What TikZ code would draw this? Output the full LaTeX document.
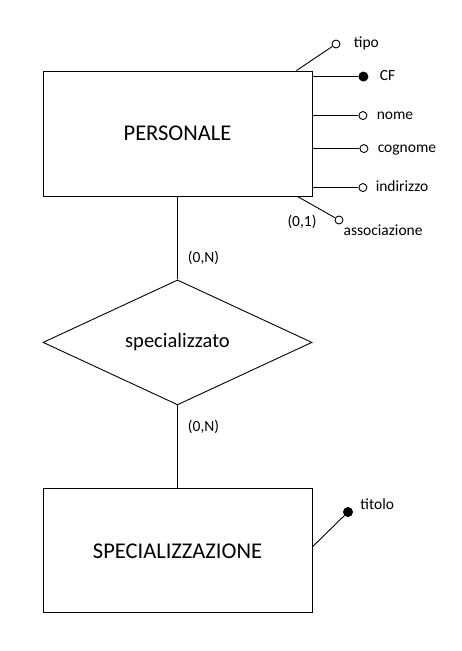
\documentclass[tikz,border=0pt]{standalone}
\usepackage{fontspec}
\setmainfont{Carlito}
\usetikzlibrary{shapes.geometric, positioning, calc}

\begin{document}
\begin{tikzpicture}[
  x=1pt, y=-1pt,
  node distance=83pt,
  line width=0.9pt,
  entity/.style={draw, minimum width=269pt, minimum height=125pt,
    font=\fontsize{22.5}{26}\selectfont},
  relation/.style={draw, diamond, minimum width=269pt, minimum height=125pt,
    inner sep=0pt, font=\fontsize{20.5}{24}\selectfont},
  attr/.style={draw, circle, fill=white, minimum size=8pt, inner sep=0pt},
  keyattr/.style={attr, fill=black, minimum size=9pt},
  lbl/.style={inner sep=0pt, text height=11.2pt, text depth=3.5pt,
    font=\fontsize{15.5}{18}\selectfont}
]
\useasboundingbox (0,0) rectangle (461,651);

% Entities and relationship
\node[entity] (pers) at (177.5,133.5) {PERSONALE};
\node[relation, below=of pers] (spz) {specializzato};
\node[entity, below=of spz, minimum height=124pt] (spec) {SPECIALIZZAZIONE};

% Links with cardinalities
\draw (pers) -- node[lbl, pos=0.75, right=10pt] (card1) {(0,N)} (spz);
\draw (spz) -- node[lbl, pos=0.27, right=10pt] (card2) {(0,N)} (spec);

% Attribute anchors on the box
\coordinate (tipoAt) at ($(pers.north east)+(-16,0)$);
\coordinate (cfAt) at ($(pers.north east)+(0,6)$);
\coordinate (nomeAt) at ($(pers.north east)+(0,45)$);
\coordinate (cognAt) at ($(pers.north east)+(0,78)$);
\coordinate (indAt) at ($(pers.north east)+(0,117)$);
\coordinate (assocAt) at ($(pers.south east)+(-15,0)$);
\coordinate (titAt) at ($(spec.east)+(0,-4)$);

% Attributes of PERSONALE
\node[attr] (tipo) at (336,44) {};
\node[keyattr, right=46pt of cfAt] (cf) {};
\node[attr, right=46pt of nomeAt] (nome) {};
\node[attr, right=47pt of cognAt] (cogn) {};
\node[attr, right=46pt of indAt] (ind) {};
\node[attr] (assoc) at (339,220) {};

% Attribute of SPECIALIZZAZIONE
\node[keyattr] (tit) at (348,512) {};

% Attribute lines
\draw (tipoAt) -- (tipo);
\draw (cfAt) -- (cf);
\draw (nomeAt) -- (nome);
\draw (cognAt) -- (cogn);
\draw (indAt) -- (ind);
\draw (assocAt) -- (assoc);
\draw (titAt) -- (tit);

% Labels
\node[lbl, right=13pt of tipo] (tipoLbl) {tipo};
\node[lbl, right=11pt of cf] (cfLbl) {CF};
\node[lbl, right=9pt of nome] (nomeLbl) {nome};
\node[lbl, right=9pt of cogn] (cognLbl) {cognome};
\node[lbl, right=8pt of ind] (indLbl) {indirizzo};
\node[lbl, below right=1pt and 1pt of assoc] (assocLbl) {associazione};
\node[lbl] (assocCard) at (302,223) {(0,1)};
\node[lbl, right=7pt of tit, yshift=6pt] (titLbl) {titolo};

\end{tikzpicture}
\end{document}
